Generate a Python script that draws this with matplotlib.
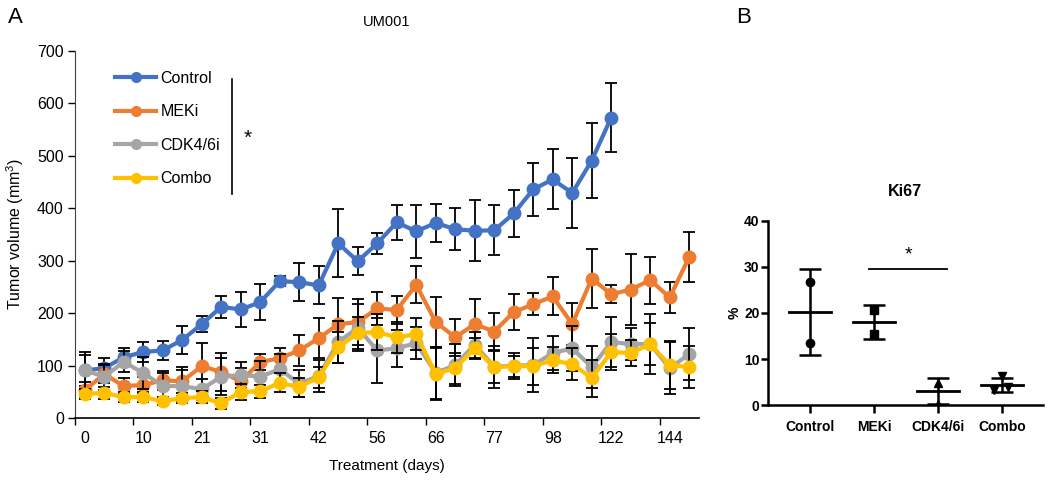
import numpy as np
import matplotlib
matplotlib.use('Agg')
import matplotlib.pyplot as plt
from matplotlib.lines import Line2D

plt.rcParams['font.family'] = ['Liberation Sans', 'DejaVu Sans']
plt.rcParams['mathtext.fontset'] = 'custom'
plt.rcParams['mathtext.rm'] = 'Liberation Sans'

# ---- panel A data (tumor volume, mm3) ----
day_labels = ['0', '10', '21', '31', '42', '56', '66', '77', '98', '122', '144']
control = [91, 95, 116, 126, 129, 149, 179, 212, 207, 221, 261, 259, 253, 333, 299, 333,
           373, 356, 372, 360, 357, 358, 390, 436, 455, 429, 491, 573]
control_err = [30, 20, 17, 19, 18, 26, 15, 21, 33, 34, 10, 36, 36, 65, 27, 20,
               34, 51, 37, 40, 58, 48, 44, 50, 57, 67, 72, 65]
meki = [53, 84, 61, 63, 72, 70, 99, 88, 70, 107, 114, 129, 152, 179, 183, 209,
        206, 254, 183, 154, 179, 165, 202, 217, 232, 179, 266, 236, 245, 263, 230, 307]
meki_err = [15, 18, 15, 15, 18, 28, 44, 36, 25, 15, 20, 30, 38, 50, 44, 32,
            27, 35, 47, 35, 48, 36, 34, 21, 36, 40, 56, 17, 67, 45, 29, 47]
cdk = [91, 79, 107, 86, 61, 61, 55, 79, 82, 79, 93, 66, 80, 145, 172, 129,
       133, 143, 86, 101, 140, 98, 100, 101, 124, 133, 97, 145, 141, 141, 95, 122]
cdk_err = [35, 25, 20, 30, 25, 30, 20, 35, 25, 30, 30, 25, 30, 40, 45, 62,
           35, 30, 50, 40, 25, 40, 25, 52, 33, 43, 40, 47, 30, 57, 50, 50]
combo = [46, 48, 40, 40, 32, 38, 40, 28, 50, 51, 67, 59, 78, 135, 162, 164,
         154, 160, 84, 95, 133, 97, 99, 99, 110, 103, 76, 126, 124, 141, 101, 97]
combo_err = [10, 12, 10, 10, 8, 10, 12, 10, 15, 12, 18, 18, 20, 30, 30, 35,
             30, 30, 50, 30, 20, 30, 20, 35, 25, 30, 35, 35, 25, 40, 45, 40]

series_names = ['Control', 'MEKi', 'CDK4/6i', 'Combo']
series_colors = ['#4472C4', '#ED7D31', '#A5A5A5', '#FFC000']

# ---- panel B data (Ki67 %) ----
groups = ['Control', 'MEKi', 'CDK4/6i', 'Combo']
ki_points = [[26.8, 13.5], [20.7, 15.5], [4.8, 0.3], [6.3, 3.3, 4.0]]
ki_offsets = [[0, 0], [0, 0], [0, 0], [0, -0.12, 0.1]]
ki_markers = ['o', 's', '^', 'v']
ki_mean = [20.2, 18.1, 3.0, 4.4]
ki_hi = [29.5, 21.8, 5.8, 5.9]
ki_lo = [10.8, 14.4, 0.2, 2.8]

fig = plt.figure(figsize=(10.5, 4.8), dpi=100)

# ================= panel A =================
ax = fig.add_axes([0.0714, 0.129, 0.5943, 0.765])
data = [(control, control_err), (meki, meki_err), (cdk, cdk_err), (combo, combo_err)]
for k, (vals, errs) in enumerate(data):
    x = np.arange(len(vals))
    ax.errorbar(x, vals, yerr=errs, fmt='none', ecolor='black', elinewidth=1.3,
                capsize=4, capthick=1.3, zorder=2 + 2 * k)
    ax.plot(x, vals, color=series_colors[k], lw=3, marker='o', ms=9,
            zorder=3 + 2 * k, label=series_names[k])

ax.set_xlim(-0.5, 31.5)
ax.set_ylim(0, 700)
ax.set_yticks(range(0, 701, 100))
ax.set_xticks(np.arange(-0.5, 30, 3))
ax.set_xticklabels([])
ax.set_xticks(np.arange(0, 31, 3), minor=True)
ax.set_xticklabels(day_labels, minor=True)
ax.tick_params(axis='x', which='major', length=5, width=1, direction='out')
ax.tick_params(axis='x', which='minor', length=0, pad=9, labelsize=11.5)
ax.tick_params(axis='y', length=5, width=1, labelsize=11.5, pad=3)
for s in ['top', 'right']:
    ax.spines[s].set_visible(False)
ax.spines['left'].set_color('#404040')
ax.spines['bottom'].set_linewidth(1.2)
ax.set_xlabel('Treatment (days)', fontsize=11, labelpad=10)
ax.set_ylabel('Tumor volume (mm$^3$)', fontsize=11.5, labelpad=8)
ax.set_title('UM001', fontsize=10.5, pad=18)

handles = [Line2D([], [], color=c, lw=3, marker='o', ms=7) for c in series_colors]
ax.legend(handles, series_names, loc='upper left', bbox_to_anchor=(0.064, 0.945),
          frameon=False, fontsize=11.5, handlelength=2.6, handletextpad=0.25,
          labelspacing=1.15, borderpad=0, borderaxespad=0)
ax.plot([0.252, 0.252], [0.61, 0.923], transform=ax.transAxes, color='black', lw=1.2,
        clip_on=False)
ax.text(0.276, 0.762, '*', transform=ax.transAxes, fontsize=15, ha='center', va='center')
fig.text(0.008, 0.985, 'A', fontsize=16, va='top')

# ================= panel B =================
bx = fig.add_axes([0.7314, 0.156, 0.2619, 0.384])
for i in range(len(groups)):
    pts = ki_points[i]
    bx.plot([i + o for o in ki_offsets[i]], pts, linestyle='none', marker=ki_markers[i],
            color='black', ms=6, zorder=3)
    bx.plot([i - 0.33, i + 0.33], [ki_mean[i], ki_mean[i]], color='black', lw=2, zorder=2)
    bx.errorbar([i], [ki_mean[i]], yerr=[[ki_mean[i] - ki_lo[i]], [ki_hi[i] - ki_mean[i]]],
                fmt='none', ecolor='black', elinewidth=1.8, capsize=8, capthick=1.8)

bx.set_xlim(-0.66, 3.64)
bx.set_ylim(0, 40)
bx.set_yticks([0, 10, 20, 30, 40])
bx.set_xticks(range(len(groups)))
bx.set_xticklabels(groups, fontweight='bold', fontsize=10)
for lab in bx.get_yticklabels():
    lab.set_fontweight('bold')
bx.tick_params(axis='y', labelsize=10, length=5, width=1.8, pad=1)
bx.tick_params(axis='x', length=6, width=1.8, pad=5)
for s in ['top', 'right']:
    bx.spines[s].set_visible(False)
for s in ['left', 'bottom']:
    bx.spines[s].set_linewidth(1.8)
bx.set_ylabel('%', fontsize=10, fontweight='bold', labelpad=2)
bx.set_title('Ki67', fontsize=11.6, fontweight='bold', pad=18)
bx.plot([0.92, 2.14], [29.5, 29.5], color='black', lw=1.3)
bx.text(1.53, 32.5, '*', fontsize=14, ha='center', va='center')
fig.text(0.701, 0.985, 'B', fontsize=16, va='top')

fig.savefig('out.png', dpi=100)
